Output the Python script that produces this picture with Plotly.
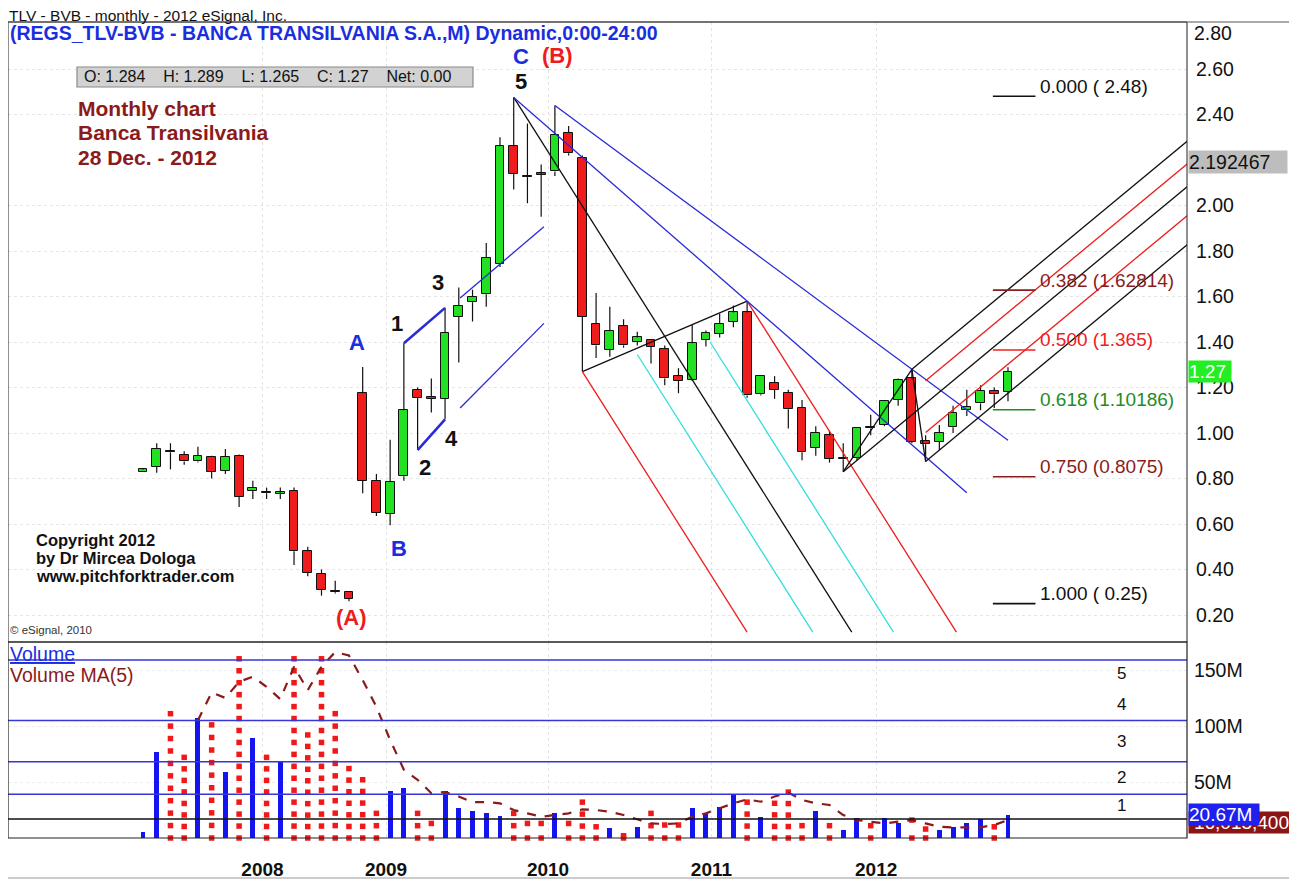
import plotly.graph_objects as go

FONT = "Liberation Sans, Arial, sans-serif"

# ---------------- data (monthly bars, index 1..64) ----------------
bar_index = list(range(1, 65))
opens = [0.83, 0.85, 0.92, 0.905, 0.875, 0.895, 0.835, 0.90, 0.745, 0.74, 0.733, 0.745, 0.48, 0.38, 0.305, 0.30,
         1.175, 0.79, 0.645, 0.81, 1.19, 1.16, 1.15, 1.51, 1.575, 1.61, 1.745, 2.26, 2.13, 2.14, 2.15, 2.32,
         2.21, 1.48, 1.365, 1.47, 1.40, 1.41, 1.37, 1.25, 1.235, 1.41, 1.435, 1.49, 1.53, 1.17, 1.22, 1.177,
         1.11, 0.935, 0.99, 0.885, 0.89, 1.025, 1.035, 1.145, 1.24, 0.965, 0.96, 1.025, 1.10, 1.13, 1.185, 1.18]
highs = [0.845, 0.955, 0.955, 0.92, 0.94, 0.90, 0.93, 0.905, 0.79, 0.76, 0.76, 0.76, 0.50, 0.40, 0.35, 0.30,
         1.29, 0.82, 0.97, 1.395, 1.20, 1.24, 1.55, 1.64, 1.63, 1.835, 2.30, 2.475, 2.36, 2.18, 2.44, 2.35,
         2.22, 1.615, 1.555, 1.50, 1.445, 1.41, 1.385, 1.285, 1.475, 1.45, 1.525, 1.56, 1.58, 1.25, 1.25, 1.19,
         1.145, 1.03, 1.01, 0.955, 1.02, 1.08, 1.145, 1.24, 1.28, 0.99, 1.035, 1.12, 1.19, 1.21, 1.20, 1.289]
lows = [0.83, 0.825, 0.84, 0.86, 0.87, 0.80, 0.82, 0.675, 0.71, 0.71, 0.71, 0.42, 0.37, 0.285, 0.295, 0.26,
        0.735, 0.635, 0.595, 0.79, 0.925, 1.09, 1.06, 1.31, 1.49, 1.555, 1.73, 2.07, 2.01, 1.95, 2.13, 2.22,
        1.27, 1.33, 1.335, 1.375, 1.385, 1.305, 1.21, 1.175, 1.23, 1.38, 1.42, 1.465, 1.155, 1.165, 1.15, 1.02,
        0.88, 0.90, 0.87, 0.83, 0.88, 0.99, 1.03, 1.12, 0.955, 0.875, 0.925, 1.00, 1.075, 1.10, 1.11, 1.14]
closes = [0.84, 0.93, 0.915, 0.875, 0.90, 0.83, 0.895, 0.72, 0.76, 0.735, 0.737, 0.48, 0.385, 0.31, 0.30, 0.27,
          0.79, 0.65, 0.785, 1.10, 1.155, 1.15, 1.44, 1.56, 1.60, 1.77, 2.26, 2.14, 2.125, 2.135, 2.31, 2.23,
          1.51, 1.385, 1.45, 1.385, 1.42, 1.38, 1.24, 1.23, 1.395, 1.44, 1.48, 1.53, 1.165, 1.25, 1.19, 1.104,
          0.915, 1.00, 0.885, 0.89, 1.02, 1.02, 1.14, 1.235, 0.96, 0.95, 1.00, 1.09, 1.115, 1.185, 1.17, 1.27]
volume_m = [5, 77, 111, 72, 107, 101, 58.6, 160, 89.6, 72, 68, 160, 92, 160, 111, 62,
            52, 22, 42, 45, 22, 13, 42, 27, 24, 22.6, 20, 22, 13, 13, 22, 13,
            32, 10, 9, 2, 10, 22, 11.6, 11.6, 26.5, 21, 27.4, 38, 32, 19, 31, 41,
            11, 24, 11, 7, 17.5, 11, 17.5, 13, 16, 8, 7, 10, 13, 17, 10, 20.67]
vol_ma_m = [None, None, None, None,
            105, 130, 125, 139.5, 144, 135, 124, 153, 132, 153, 166, 163,
            141, 117, 87.5, 61, 52, 40, 41, 37, 32, 32, 31, 25,
            22, 19, 20.5, 22, 25.6, 25, 23.5, 20.5, 16.7, 13, 12.5, 13,
            19, 22, 26.5, 31, 34.5, 32.4, 37, 40.5, 34, 31, 29.5, 20.5,
            16, 14.6, 13, 14.6, 16, 13, 10, 9.5, 9.5, 9.5, 11.6, 16]

year_labels = ["2008", "2009", "2010", "2011", "2012"]
year_pos = [9.7, 18.7, 30.5, 42.4, 54.4]
price_ticks = [0.20, 0.40, 0.60, 0.80, 1.00, 1.20, 1.40, 1.60, 1.80, 2.00, 2.40, 2.60]
vol_ticks = [50, 100, 150]
vol_tick_text = ["50M", "100M", "150M"]
vol_levels_blue = [159, 105, 68, 39]
vol_level_black = 17
vol_zone_labels = ["5", "4", "3", "2", "1"]
vol_zone_y = [147, 119, 86, 54, 28.6]

fib_prices = [2.48, 1.62814, 1.365, 1.10186, 0.8075, 0.25]
fib_texts = ["0.000 ( 2.48)", "0.382 (1.62814)", "0.500 (1.365)", "0.618 (1.10186)", "0.750 (0.8075)", "1.000 ( 0.25)"]
fib_colors = ["#111111", "#8b1c1c", "#f02020", "#1e8c1e", "#8b1c1c", "#111111"]
fib_x = [62.9, 66.0]

# pitchfork 1 pivots (bar numbers) and end level
pf1_bars = [28, 33, 45]
pf_end_price = 0.125
cyan_starts = [(37.0, 1.345), (42.3, 1.40)]
pf2_bars = [52, 57, 58]
pf2_slope = 0.050
# 2009 impulse channel
chan_upper = [(24.1, 1.593), (30.2, 1.907)]
chan_lower = [(24.1, 1.11), (30.2, 1.482)]

last_price = 1.27
pf_value = 2.192467
last_vol = 20.67
last_ma = 14.0

# ---------------- geometry (page pixels; page body has an 8px margin) ----------------
OFF = 8
W, H = 1297 - OFF, 880 - OFF
ML, MT = 0, 22 - OFF
MR = W - (1187 - OFF)
MB = H - (838 - OFF)
PW, PH = W - ML - MR, H - MT - MB


def px(x):
    return (x - OFF - ML) / PW


def py(y):
    return (H - MB - (y - OFF)) / PH


split = py(642)
X_RANGE = [1 + (8 - 143) / 13.73, 1 + (1187 - 143) / 13.73]
PRICE_RANGE = [0.0813, 2.8066]
VOL_RANGE = [0, 175]

GREEN = "#22e022"
RED = "#ee1c1c"
BLUE = "#2a2ad8"
CYAN = "#33dede"
BLACK = "#111111"

fig = go.Figure()

# ---------------- candles ----------------
wx, wy = [], []
for i, o, h, l, c in zip(bar_index, opens, highs, lows, closes):
    top, bot = max(o, c), min(o, c)
    wx += [i, i, None, i, i, None]
    wy += [top, h, None, l, bot, None]
fig.add_trace(go.Scatter(x=wx, y=wy, mode="lines", line=dict(color=BLACK, width=1.2),
                         hoverinfo="skip", showlegend=False))
bases = [min(o, c) for o, c in zip(opens, closes)]
heights = [max(abs(c - o), 0.006) for o, c in zip(opens, closes)]
cols = [GREEN if c >= o else RED for o, c in zip(opens, closes)]
fig.add_trace(go.Bar(x=bar_index, y=heights, base=bases, width=0.64,
                     marker=dict(color=cols, line=dict(color=BLACK, width=1)),
                     showlegend=False, hoverinfo="skip"))


def seg(pts, color, width=1.3):
    fig.add_trace(go.Scatter(x=[p[0] for p in pts], y=[p[1] for p in pts], mode="lines",
                             line=dict(color=color, width=width), hoverinfo="skip", showlegend=False))


# pitchfork 1
P0 = (pf1_bars[0], highs[pf1_bars[0] - 1])
P1 = (pf1_bars[1], lows[pf1_bars[1] - 1])
P2 = (pf1_bars[2], highs[pf1_bars[2] - 1])
mid = ((P1[0] + P2[0]) / 2, (P1[1] + P2[1]) / 2)
slope1 = (mid[1] - P0[1]) / (mid[0] - P0[0])


def end_at(p, price, s):
    return (p[0] + (price - p[1]) / s, price)


seg([P1, P2], BLACK)
seg([P0, end_at(P0, pf_end_price, slope1)], BLACK)
seg([P1, end_at(P1, pf_end_price, slope1)], RED)
seg([P2, end_at(P2, pf_end_price, slope1)], RED)
for cs in cyan_starts:
    seg([cs, end_at(cs, pf_end_price, slope1)], CYAN)

# blue trend lines from the tops
sa = (P2[1] - P0[1]) / (P2[0] - P0[0])
seg([P0, (61, P0[1] + sa * (61 - P0[0]))], BLUE)
B0 = (31, highs[30])
B1 = (57, highs[56])
sb = (B1[1] - B0[1]) / (B1[0] - B0[0])
seg([B0, (64, B0[1] + sb * (64 - B0[0]))], BLUE)

# 2009 impulse lines
seg([(20, highs[19]), (23, highs[22])], BLUE, 2.6)
seg([(21, lows[20]), (23, lows[22])], BLUE, 2.6)
seg(chan_upper, BLUE)
seg(chan_lower, BLUE)

# pitchfork 2
Q0 = (pf2_bars[0], lows[pf2_bars[0] - 1])
Q1 = (pf2_bars[1], highs[pf2_bars[1] - 1])
Q2 = (pf2_bars[2], lows[pf2_bars[2] - 1])
XE = 80
seg([Q0, Q1], BLACK)
seg([Q1, Q2], BLACK)
for q in (Q0, Q1, Q2):
    seg([q, (XE, q[1] + pf2_slope * (XE - q[0]))], BLACK)
for qa, qb in ((Q1, Q0), (Q0, Q2)):
    v = ((qa[1] + pf2_slope * (58 - qa[0])) + (qb[1] + pf2_slope * (58 - qb[0]))) / 2
    seg([(58, v), (XE, v + pf2_slope * (XE - 58))], RED)

# fib markers
for p, c in zip(fib_prices, fib_colors):
    seg([(fib_x[0], p), (fib_x[1], p)], c, 1.6)

# ---------------- volume ----------------
up = [c >= o for o, c in zip(opens, closes)]
fig.add_trace(go.Bar(x=[i for i, u in zip(bar_index, up) if u],
                     y=[v for v, u in zip(volume_m, up) if u],
                     width=0.36, marker=dict(color="#1414f0", line=dict(width=0)),
                     yaxis="y2", showlegend=False, hoverinfo="skip"))
step = 10.7
dx, dy = [], []
for i, v, u in zip(bar_index, volume_m, up):
    if u:
        continue
    n = max(1, round(v / step))
    for j in range(n + 1):
        dx.append(i)
        dy.append(v * j / n)
fig.add_trace(go.Scatter(x=dx, y=dy, mode="markers", yaxis="y2", cliponaxis=False,
                         marker=dict(symbol="square", size=5.5, color="#f21818", line=dict(width=0)),
                         showlegend=False, hoverinfo="skip"))
fig.add_trace(go.Scatter(x=bar_index, y=vol_ma_m, mode="lines", yaxis="y2",
                         line=dict(color="#8b1a1a", width=2.2, dash="dash"),
                         showlegend=False, hoverinfo="skip"))

shapes = []
for lv in vol_levels_blue:
    shapes.append(dict(type="line", xref="paper", yref="y2", x0=0, x1=1, y0=lv, y1=lv,
                       line=dict(color="#3535d8", width=1.5)))
shapes.append(dict(type="line", xref="paper", yref="y2", x0=0, x1=1, y0=vol_level_black, y1=vol_level_black,
                   line=dict(color=BLACK, width=1.6)))
shapes.append(dict(type="rect", xref="paper", yref="paper", x0=0, x1=1, y0=split, y1=1,
                   line=dict(color="#222", width=1)))
shapes.append(dict(type="rect", xref="paper", yref="paper", x0=0, x1=1, y0=0, y1=split,
                   line=dict(color="#222", width=1.2)))
shapes.append(dict(type="line", xref="paper", yref="paper", x0=px(8), x1=px(1297), y0=py(22), y1=py(22),
                   line=dict(color="#555", width=1)))
shapes.append(dict(type="line", xref="paper", yref="paper", x0=px(1290), x1=px(1290), y0=py(22), y1=py(878),
                   line=dict(color="#777", width=1)))
shapes.append(dict(type="line", xref="paper", yref="paper", x0=px(8), x1=px(1290), y0=py(878), y1=py(878),
                   line=dict(color="#999", width=1)))
shapes.append(dict(type="rect", xref="paper", yref="paper", x0=px(77), x1=px(473), y0=py(87), y1=py(67),
                   fillcolor="#d2d2d2", line=dict(color="#8a8a8a", width=1.2), layer="above"))

ann = []


def text(x, y, s, size, color, bold=False, xanchor="left", xref="paper", yref="paper", **kw):
    ann.append(dict(x=x, y=y, xref=xref, yref=yref, text=("<b>%s</b>" % s) if bold else s,
                    showarrow=False, xanchor=xanchor, yanchor="middle",
                    font=dict(family=FONT, size=size, color=color), **kw))


text(px(8), py(15.5), "TLV - BVB - monthly - 2012 eSignal, Inc.", 15.5, "#111", borderpad=0)
text(px(8), py(33), "(REGS_TLV-BVB - BANCA TRANSILVANIA S.A.,M) Dynamic,0:00-24:00", 19.5, "#1a2ee0", bold=True)
text(px(82), py(77), "O: 1.284\u00a0\u00a0\u00a0 H: 1.289\u00a0\u00a0\u00a0 L: 1.265\u00a0\u00a0\u00a0 C: 1.27\u00a0\u00a0\u00a0 Net: 0.00",
     16, "#111")
for s, yy in zip(["Monthly chart", "Banca Transilvania", "28 Dec. - 2012"], [109, 133, 158]):
    text(px(76), py(yy), s, 21, "#8b1a1a", bold=True)
for s, yy in zip(["Copyright 2012", "by Dr Mircea Dologa", "www.pitchforktrader.com"], [540, 558, 576]):
    text(px(34), py(yy), s, 16.5, "#111", bold=True)
text(px(8), py(630), "\u00a9 eSignal, 2010", 11.5, "#333")
text(px(8), py(654), "<u>Volume</u>", 19.5, "#1a2ee0")
text(px(8), py(675), "Volume MA(5)", 19.5, "#8b1a1a")

# wave labels (data coordinates)
for s, x, y, c in [("C", 28.5, 2.655, "#1a2ee0"), ("(B)", 31.2, 2.66, RED), ("5", 28.5, 2.545, BLACK),
                   ("A", 16.6, 1.40, "#1a2ee0"), ("B", 19.65, 0.494, "#1a2ee0"), ("(A)", 16.2, 0.187, RED),
                   ("1", 19.5, 1.48, BLACK), ("2", 21.55, 0.85, BLACK), ("3", 22.5, 1.66, BLACK),
                   ("4", 23.5, 0.978, BLACK)]:
    text(x, y, s, 22, c, bold=True, xanchor="center", xref="x", yref="y")

for p, s, c in zip(fib_prices, fib_texts, fib_colors):
    text(66.2, p, s, 19, c, xref="x", yref="y", yshift=10)

for s, v in zip(vol_zone_labels, vol_zone_y):
    text(px(1121), v, s, 17, "#111", xanchor="center", yref="y2")

# right axis value boxes
text(px(1192), py(33), "2.80", 19.5, "#111")
text(px(1188), pf_value, "2.192467", 19.5, "#111", yref="y", bgcolor="#bdbdbd", width=98, align="left", borderpad=0)
text(px(1188), last_price, "1.27", 19, "#ffffff", yref="y", bgcolor="#22ee22", width=42, align="left", borderpad=0)
text(px(1188), last_ma, "16,015,400", 19, "#ffffff", yref="y2", bgcolor="#8b1515", width=100, align="right", borderpad=0)
text(px(1188), last_vol, "20.67M", 19, "#ffffff", yref="y2", bgcolor="#2020ee", width=70, align="left", borderpad=0)

fig.update_layout(
    width=W, height=H, margin=dict(l=ML, r=MR, t=MT, b=MB),
    paper_bgcolor="white", plot_bgcolor="white", barmode="overlay", bargap=0,
    showlegend=False, font=dict(family=FONT, color="#111"),
    shapes=shapes, annotations=ann,
    xaxis=dict(range=X_RANGE, anchor="y2", tickvals=year_pos, ticktext=["<b>%s</b>" % s for s in year_labels],
               tickfont=dict(size=19, color="#111"), ticks="outside", ticklen=14, tickcolor="rgba(0,0,0,0)",
               showgrid=True, gridcolor="#e4e4e4", griddash="dot", zeroline=False, showline=False, fixedrange=True),
    yaxis=dict(domain=[split, 1], range=PRICE_RANGE, side="right", tickvals=price_ticks,
               ticktext=["%.2f" % t for t in price_ticks], tickfont=dict(size=19.5, color="#111"),
               ticks="outside", ticklen=4, tickcolor="rgba(0,0,0,0)", showgrid=True, gridcolor="#e6e6e6",
               griddash="dot", zeroline=False, showline=False),
    yaxis2=dict(domain=[0, split], range=VOL_RANGE, side="right", anchor="x", tickvals=vol_ticks,
                ticktext=vol_tick_text, tickfont=dict(size=19.5, color="#111"), ticks="outside", ticklen=2,
                tickcolor="rgba(0,0,0,0)", showgrid=True, gridcolor="#ececec", griddash="dot",
                zeroline=False, showline=False),
)

fig.write_html("out.html")
